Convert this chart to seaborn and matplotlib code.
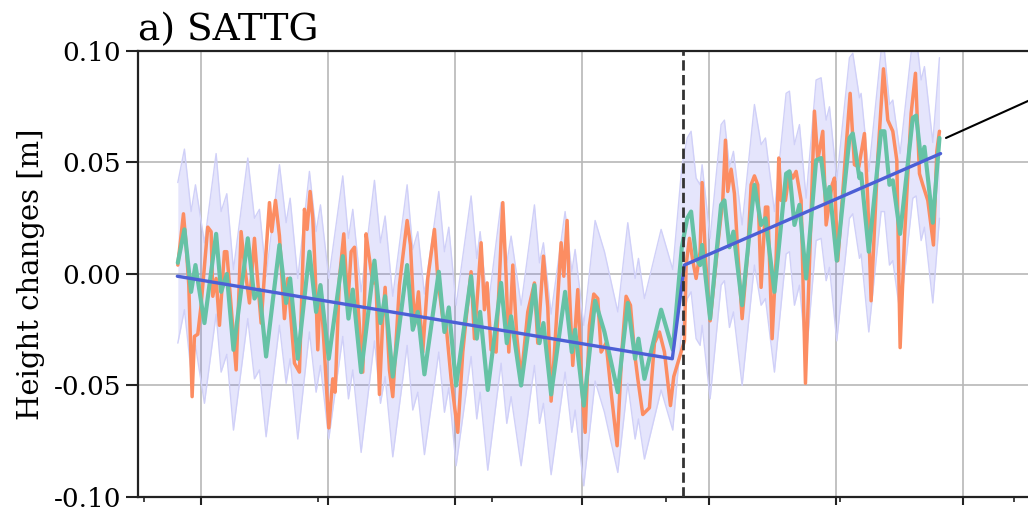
import numpy as np
import pandas as pd
import matplotlib
matplotlib.use("Agg")
import matplotlib.pyplot as plt
import seaborn as sns
from matplotlib.ticker import FormatStrFormatter, FixedLocator

# smoothed height series (green), decimal years / metres
green_t = [1999.255, 1999.464, 1999.674, 1999.811, 2000.094, 2000.462, 2000.619, 2000.798,
           2001.008, 2001.459, 2001.669, 2001.826, 2002.036, 2002.457, 2002.667, 2002.793,
           2003.034, 2003.401, 2003.611, 2003.748, 2004.010, 2004.451, 2004.630, 2004.766,
           2005.029, 2005.449, 2005.638, 2005.785, 2006.026, 2006.478, 2006.656, 2006.814,
           2007.023, 2007.475, 2007.653, 2007.790, 2008.021, 2008.493, 2008.672, 2008.777,
           2009.018, 2009.438, 2009.617, 2009.753, 2010.068, 2010.488, 2010.646, 2010.771,
           2011.013, 2011.454, 2011.664, 2011.769, 2012.042, 2012.399, 2012.693, 2013.113,
           2013.428, 2013.659, 2013.764, 2013.953, 2014.478, 2014.845,
           2015.130, 2015.300, 2015.422, 2015.580, 2015.706, 2015.769, 2016.021, 2016.367,
           2016.472, 2016.630, 2016.756, 2017.029, 2017.417, 2017.627, 2017.764, 2018.047,
           2018.415, 2018.520, 2018.677, 2018.835, 2019.045, 2019.360, 2019.517, 2019.675,
           2019.780, 2020.011, 2020.410, 2020.515, 2020.725, 2020.777, 2021.019, 2021.407,
           2021.512, 2021.670, 2021.775, 2022.006, 2022.405, 2022.510, 2022.667, 2022.772,
           2023.035, 2023.245]
green_v = [0.005, 0.020, -0.008, 0.004, -0.022, 0.018, -0.008, 0.000,
           -0.034, 0.016, -0.011, -0.007, -0.037, 0.013, -0.013, -0.002,
           -0.038, 0.010, -0.017, -0.005, -0.038, 0.008, -0.020, -0.007,
           -0.044, 0.006, -0.022, -0.010, -0.046, 0.004, -0.025, -0.017,
           -0.045, 0.001, -0.026, -0.015, -0.050, -0.001, -0.029, -0.017,
           -0.052, -0.004, -0.031, -0.019, -0.050, -0.005, -0.031, -0.022,
           -0.054, -0.008, -0.035, -0.025, -0.059, -0.012, -0.026, -0.053,
           -0.013, -0.038, -0.029, -0.047, -0.016, -0.034,
           0.012, 0.025, 0.028, 0.007, 0.004, 0.013, -0.020, 0.031,
           0.033, 0.012, 0.019, -0.014, 0.040, 0.022, 0.025, -0.008,
           0.045, 0.046, 0.022, 0.031, -0.002, 0.051, 0.052, 0.033,
           0.039, 0.006, 0.061, 0.063, 0.043, 0.045, 0.010, 0.064,
           0.064, 0.040, 0.042, 0.018, 0.070, 0.071, 0.051, 0.057,
           0.023, 0.061]
band_sigma = 0.036

# raw height series (orange)
orange_t = [1999.255, 1999.433, 1999.517, 1999.601, 1999.706, 1999.779, 1999.884, 1999.989,
            2000.199, 2000.304, 2000.357, 2000.462, 2000.567, 2000.724, 2000.798, 2000.882,
            2001.092, 2001.249, 2001.354, 2001.512, 2001.669, 2001.743, 2001.879, 2002.142,
            2002.215, 2002.331, 2002.457, 2002.614, 2002.719, 2002.929,
            2003.086, 2003.244, 2003.328, 2003.422, 2003.506, 2003.580, 2003.664, 2003.748,
            2003.874, 2004.010, 2004.136, 2004.210, 2004.346, 2004.483, 2004.609, 2004.714,
            2004.819, 2004.924, 2005.081, 2005.186, 2005.260, 2005.396, 2005.501, 2005.606,
            2005.711, 2005.785, 2005.921, 2006.026, 2006.236, 2006.478, 2006.583, 2006.709,
            2006.835, 2006.971,
            2007.128, 2007.338, 2007.443, 2007.601, 2007.706, 2007.863, 2008.073, 2008.231,
            2008.336, 2008.493, 2008.598, 2008.808, 2008.913, 2008.997, 2009.123, 2009.281,
            2009.491, 2009.596, 2009.680, 2009.806, 2009.932, 2010.068, 2010.278, 2010.488,
            2010.593, 2010.771, 2010.908,
            2011.013, 2011.118, 2011.328, 2011.412, 2011.517, 2011.590, 2011.695, 2011.853,
            2011.979, 2012.084, 2012.220, 2012.357, 2012.483, 2012.588, 2012.745, 2012.903,
            2013.092, 2013.239, 2013.375, 2013.512, 2013.638, 2013.743, 2013.900, 2014.110,
            2014.268, 2014.425, 2014.583, 2014.772, 2014.876,
            2015.212, 2015.265, 2015.370, 2015.475, 2015.580, 2015.706, 2015.769, 2015.874,
            2016.021, 2016.262, 2016.420, 2016.504, 2016.577, 2016.682, 2016.787, 2016.892,
            2017.029, 2017.207, 2017.312, 2017.417, 2017.522, 2017.627, 2017.764, 2017.837,
            2017.974, 2018.100, 2018.184, 2018.257, 2018.394, 2018.520, 2018.625, 2018.730,
            2018.887, 2019.024, 2019.149, 2019.307,
            2019.412, 2019.570, 2019.675, 2019.727, 2019.864, 2019.937, 2020.042, 2020.200,
            2020.431, 2020.567, 2020.704, 2020.882, 2020.987, 2021.092, 2021.302, 2021.481,
            2021.617, 2021.775, 2021.901, 2022.006, 2022.142, 2022.352, 2022.489, 2022.615,
            2022.720, 2022.877, 2023.056, 2023.161, 2023.245]
orange_v = [0.004, 0.027, 0.013, -0.005, -0.055, -0.028, -0.027, -0.014,
            0.021, 0.019, -0.010, -0.002, -0.023, 0.010, 0.010, -0.005,
            -0.043, 0.019, 0.004, -0.013, 0.016, 0.002, -0.022, 0.032,
            0.019, 0.033, 0.017, -0.020, -0.002, -0.040,
            -0.044, 0.029, 0.020, 0.037, 0.025, 0.002, -0.034, -0.005,
            -0.035, -0.069, -0.047, -0.053, -0.002, 0.018, -0.014, 0.010,
            0.012, -0.013, -0.044, 0.018, 0.010, -0.004, -0.004, -0.054,
            -0.020, -0.006, -0.043, -0.055, -0.005, 0.024, 0.013, -0.023,
            -0.008, -0.035,
            -0.002, 0.020, -0.002, -0.020, -0.023, -0.047, -0.071, -0.035,
            -0.020, 0.001, -0.029, 0.014, -0.016, -0.004, -0.034, -0.035,
            0.032, -0.001, -0.035, 0.004, -0.028, -0.047, -0.017, -0.004,
            -0.031, 0.008, -0.015,
            -0.057, -0.035, 0.014, -0.001, 0.024, -0.008, -0.041, -0.007,
            -0.050, -0.071, -0.023, -0.009, -0.011, -0.035, -0.031, -0.053,
            -0.077, -0.035, -0.010, -0.014, -0.035, -0.047, -0.063, -0.060,
            -0.031, -0.026, -0.035, -0.059, -0.046,
            -0.030, 0.004, 0.016, 0.006, -0.002, 0.010, 0.041, 0.007,
            -0.021, 0.013, 0.033, 0.060, 0.037, 0.047, 0.036, 0.010,
            -0.020, 0.010, 0.040, 0.044, 0.040, -0.006, 0.030, 0.030,
            -0.029, 0.007, 0.052, 0.033, 0.033, 0.046, 0.043, 0.046,
            0.033, -0.049, 0.004, 0.073,
            0.051, 0.064, 0.022, 0.027, 0.040, 0.043, 0.006, 0.037,
            0.081, 0.049, 0.048, 0.063, 0.033, -0.012, 0.052, 0.092,
            0.069, 0.064, 0.051, -0.033, 0.016, 0.072, 0.090, 0.045,
            0.040, 0.033, 0.013, 0.055, 0.064]

# piecewise linear trend with offset
trend_t = [1999.24, 2014.83, 2015.21, 2023.28]
trend_v = [-0.001, -0.038, 0.004, 0.054]

break_year = 2015.18
grid_years = [2000, 2004, 2008, 2012, 2016, 2020, 2024]
minor_years = [1998.2, 2003.68, 2009.15, 2014.63, 2020.1, 2025.58]
y_ticks = [-0.10, -0.05, 0.00, 0.05, 0.10]

sns.set_theme(style="whitegrid")
plt.rcParams['font.family'] = ['DejaVu Serif']
plt.rcParams['axes.unicode_minus'] = False
plt.rcParams['text.color'] = 'black'
plt.rcParams['axes.labelcolor'] = 'black'
plt.rcParams['ytick.color'] = 'black'
plt.rcParams['xtick.color'] = 'black'

fig = plt.figure(figsize=(10.28, 5.12), dpi=100)
ax = fig.add_axes([0.1342, 0.0293, 0.9358, 0.8711])

green_lo = np.array(green_v) - band_sigma
green_hi = np.array(green_v) + band_sigma
ax.fill_between(green_t, green_lo, green_hi, color='#7070f0', alpha=0.18, lw=0, zorder=1)
ax.plot(green_t, green_lo, color='#d0d0f8', lw=1, zorder=1.5)
ax.plot(green_t, green_hi, color='#d0d0f8', lw=1, zorder=1.5)

df_orange = pd.DataFrame({'t': orange_t, 'h': orange_v})
df_green = pd.DataFrame({'t': green_t, 'h': green_v})
df_trend = pd.DataFrame({'t': trend_t, 'h': trend_v})
sns.lineplot(data=df_orange, x='t', y='h', color='#fc8d62', lw=2.5, estimator=None, ax=ax, zorder=2)
sns.lineplot(data=df_green, x='t', y='h', color='#66c2a5', lw=3.0, estimator=None, ax=ax, zorder=3)
sns.lineplot(data=df_trend, x='t', y='h', color='#4c5fd5', lw=2.4, estimator=None, ax=ax, zorder=4)

ax.axvline(break_year, color='#333333', ls='--', lw=2, zorder=5)

ax.annotate('', xy=(2023.45, 0.061), xytext=(2028.28, 0.092),
            arrowprops=dict(arrowstyle='-', color='black', lw=1.5, shrinkA=0, shrinkB=0),
            annotation_clip=False)

ax.set_xlim(1998.0, 2028.3)
ax.set_ylim(-0.1, 0.1)
ax.set_xticks(grid_years)
ax.xaxis.set_minor_locator(FixedLocator(minor_years))
ax.set_yticks(y_ticks)
ax.yaxis.set_major_formatter(FormatStrFormatter('%.2f'))
ax.tick_params(axis='x', which='major', bottom=True, length=6, width=1.5, color='#222222', labelbottom=False)
ax.tick_params(axis='x', which='minor', bottom=True, length=3.5, width=1.2, color='#222222')
ax.tick_params(axis='y', which='major', left=True, length=9, width=1.5, color='#222222', labelsize=19, pad=3)
ax.grid(True, which='major', color='#b8b8b8', lw=1.2)
ax.grid(False, which='minor')
for sp in ax.spines.values():
    sp.set_color('#222222')
    sp.set_linewidth(1.6)

ax.set_xlabel('')
ax.set_ylabel('Height changes [m]', fontsize=21, labelpad=6)
ax.set_title('a) SATTG', loc='left', fontsize=27, pad=8)

fig.savefig('out.png', dpi=100)
